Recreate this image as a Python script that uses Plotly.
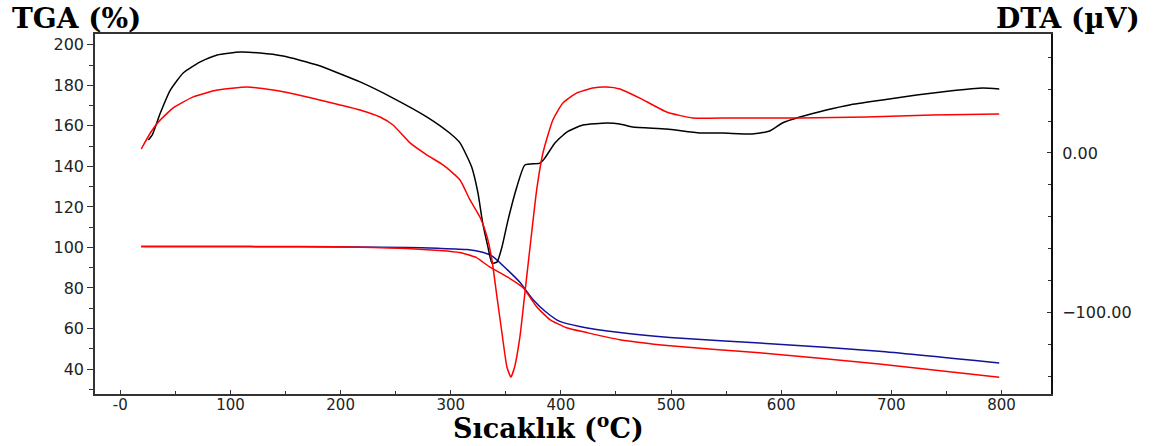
import plotly.graph_objects as go

# ---- data ----
# TGA (%) - left axis
tga_blue_x = [19, 72.6, 163, 260, 288, 315, 329, 338, 351, 363, 374.6, 387, 399, 417, 453.5, 499, 590, 689, 798]
tga_blue_y = [100.5, 100.5, 100.3, 100.0, 99.6, 99.0, 97.6, 95.6, 89.2, 82.7, 74.3, 67.9, 63.5, 61.0, 58.0, 55.6, 52.5, 48.8, 43.0]

tga_red_x = [19, 163, 229.5, 260, 290, 308, 323.4, 335, 351, 365.5, 378, 390, 405, 423.6, 453.5, 499, 580.5, 689, 798]
tga_red_y = [100.5, 100.5, 100.0, 99.5, 98.5, 97.5, 95.0, 90.5, 85.6, 80.2, 70.8, 64.4, 60.4, 58.0, 54.5, 51.5, 48.0, 42.5, 36.0]

# DTA (uV) - right axis
dta_black_x = [25.4, 29, 36.3, 45.4, 57.1, 72.6, 88, 108.8, 127, 147.8, 178.7, 217.7, 247.6, 278.5, 299, 308.4,
               319, 324.7, 329, 333.8, 337.4, 342, 346.5, 352, 360, 367.3, 381, 385.5, 394.6, 405.4, 420,
               441.7, 453.5, 465, 496, 526, 547, 574, 589.6, 601, 617, 641, 662, 692, 723, 753, 783, 798]
dta_black_y = [8.1, 11.3, 25.0, 39.4, 50.1, 57.0, 61.4, 63.2, 62.6, 60.7, 55.1, 44.5, 34.4, 22.5, 12.5, 6.3,
               -8.8, -25.0, -43.8, -58.9, -68.9, -68.3, -58.9, -42.0, -21.3, -7.5, -6.3, -3.1, 6.3, 13.1, 17.5,
               18.8, 18.2, 16.3, 15.0, 12.5, 12.5, 11.9, 13.8, 18.8, 22.5, 26.9, 30.1, 33.2, 36.3, 38.8, 40.7, 40.1]

dta_red_x = [19, 27.2, 34.5, 48, 66.2, 88, 115, 138.8, 169.6, 199.5, 217.7, 235.8, 247.6, 263, 278.5, 293, 308.4,
             317.5, 326.5, 333, 337.4, 342, 346.5, 351, 354.6, 358, 362.8, 367.3, 372, 378, 383.7, 392.7,
             401.8, 414.5, 429, 441.7, 453.5, 471.7, 496, 519.7, 556, 617, 677.6, 737, 798]
dta_red_y = [2.5, 12.5, 19.4, 28.2, 35.1, 39.4, 41.3, 39.4, 35.1, 30.1, 26.9, 22.5, 17.5, 6.3, -1.3, -7.5, -16.9,
             -29.4, -40.1, -52.6, -67.0, -90.2, -112.7, -134.0, -140.3, -134.0, -115.2, -87.7, -58.9, -23.2, 0.0, 20.7,
             31.3, 37.6, 40.7, 41.3, 40.1, 34.4, 25.7, 21.9, 21.9, 21.9, 22.5, 23.8, 24.4]

x_tick_vals = [0, 100, 200, 300, 400, 500, 600, 700, 800]
x_tick_text = ["-0", "100", "200", "300", "400", "500", "600", "700", "800"]

# ---- figure ----
fig = go.Figure()
lw = 1.5
fig.add_trace(go.Scatter(x=tga_blue_x, y=tga_blue_y, mode="lines",
                         line=dict(color="#12129a", width=lw, shape="spline", smoothing=0.5), yaxis="y"))
fig.add_trace(go.Scatter(x=tga_red_x, y=tga_red_y, mode="lines",
                         line=dict(color="#ff0000", width=lw, shape="spline", smoothing=0.5), yaxis="y"))
fig.add_trace(go.Scatter(x=dta_black_x, y=dta_black_y, mode="lines",
                         line=dict(color="#000000", width=lw, shape="spline", smoothing=0.5), yaxis="y2"))
fig.add_trace(go.Scatter(x=dta_red_x, y=dta_red_y, mode="lines",
                         line=dict(color="#ff0000", width=lw, shape="spline", smoothing=0.5), yaxis="y2"))

tick_font = dict(family="DejaVu Sans", size=16, color="#222222")
xtick_font = dict(family="DejaVu Sans", size=15, color="#222222")
axis_col = "#333333"

fig.update_layout(
    width=1157, height=446,
    margin=dict(l=95, r=106, t=34, b=52),
    paper_bgcolor="white", plot_bgcolor="white",
    showlegend=False,
    xaxis=dict(range=[-23, 845], tickvals=x_tick_vals, ticktext=x_tick_text,
               ticks="inside", ticklen=4, tickcolor=axis_col, tickwidth=1.2,
               minor=dict(dtick=50, tick0=0, ticks="inside", ticklen=3, tickcolor=axis_col),
               showline=True, linecolor=axis_col, linewidth=1.5, mirror=True,
               showgrid=False, zeroline=False, tickfont=xtick_font, ticklabelstandoff=-4),
    yaxis=dict(range=[27.7, 205.3], tickvals=[40, 60, 80, 100, 120, 140, 160, 180, 200],
               ticks="outside", ticklen=6, tickcolor=axis_col, tickwidth=1.2,
               minor=dict(dtick=10, tick0=0, ticks="outside", ticklen=4, tickcolor=axis_col),
               showline=True, linecolor=axis_col, linewidth=1.5,
               showgrid=False, zeroline=False, tickfont=tick_font),
    yaxis2=dict(range=[-150.9, 74.5], overlaying="y", side="right",
                tickvals=[-100, 0], tickformat=".2f",
                ticks="inside", ticklen=4, tickcolor=axis_col, tickwidth=1.2,
                minor=dict(dtick=20, tick0=0, ticks="inside", ticklen=3, tickcolor=axis_col),
                showline=True, linecolor="#111111", linewidth=2,
                showgrid=False, zeroline=False, tickfont=tick_font, ticklabelstandoff=6),
)

title_font = dict(family="DejaVu Serif", size=28, color="#000000", weight="bold")
xtitle_font = dict(family="DejaVu Serif", size=27, color="#000000", weight="bold")
fig.add_annotation(text="TGA (%)", xref="paper", yref="paper", x=-0.0889, y=1.094,
                   xanchor="left", yanchor="top", showarrow=False, font=title_font)
fig.add_annotation(text="DTA (µV)", xref="paper", yref="paper", x=1.0952, y=1.094,
                   xanchor="right", yanchor="top", showarrow=False, font=title_font)
fig.add_annotation(text="Sıcaklık (<sup>o</sup>C)", xref="paper", yref="paper", x=0.474, y=-0.1444,
                   xanchor="center", yanchor="bottom", showarrow=False, font=xtitle_font)

fig.write_html("out.html", config={"displayModeBar": False},
               post_script="document.body.style.margin='0px';document.body.style.padding='0px';")
